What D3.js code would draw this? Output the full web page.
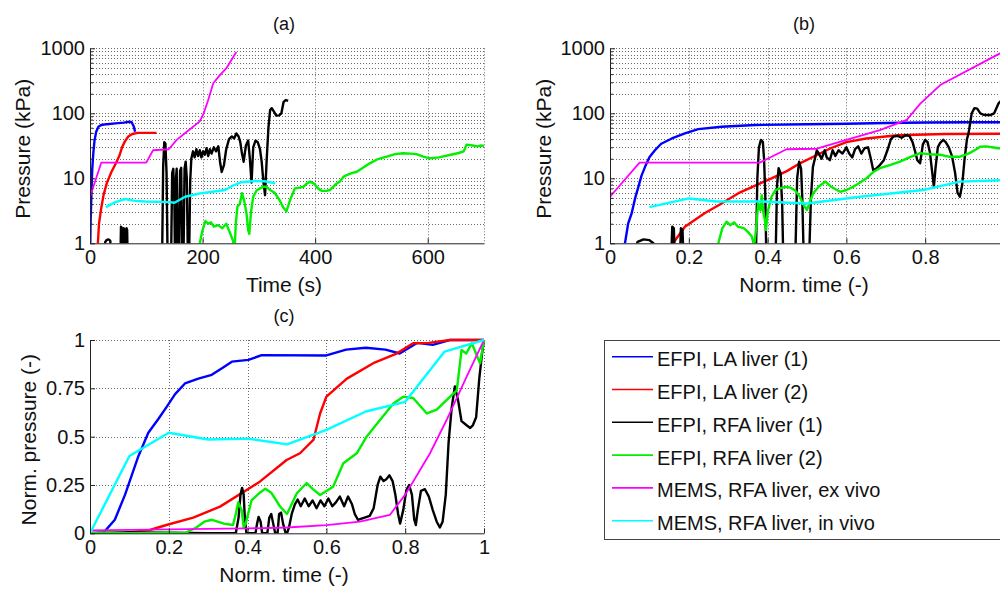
<!DOCTYPE html>
<html>
<head>
<meta charset="utf-8">
<script src="https://cdn.jsdelivr.net/npm/d3@7"></script>
<style>
  body { margin: 0; background: #fff; }
  svg text { font-family: "Liberation Sans", Arial, Helvetica, sans-serif; fill: #111; }
</style>
</head>
<body>
<svg id="chart" width="1000" height="590"></svg>
<script>
(function () {
    'use strict';

    var seriesNames = ["EFPI, LA liver (1)", "EFPI, LA liver (2)", "EFPI, RFA liver (1)",
                       "EFPI, RFA liver (2)", "MEMS, RFA liver, ex vivo", "MEMS, RFA liver, in vivo"];
    var seriesColors = ["#0000ff", "#ff0000", "#000000", "#00f000", "#ff00ff", "#00ffff"];

    // tick labels
    var timeTicks = [0, 200, 400, 600];
    var normTicks = [0, 0.2, 0.4, 0.6, 0.8, 1];
    var pressureTicks = [1, 10, 100, 1000];
    var normPressureTicks = [0, 0.25, 0.5, 0.75, 1];

    // (a) pressure (kPa) vs time (s)
    var aBlue = [[0,0.5],[0.5,1],[1,2],[2,4],[3,8],[4,14],[6,25],[8,38],[11,52],[15,62],[20,66],[30,68],[45,70],[60,72],[70,74],[74,73],[78,62],[80,52]];
    var aRed = [[13,0.8],[14,1],[16,2],[20,3.5],[24,5.5],[30,8.5],[38,12.5],[46,17],[52,22],[57,30],[62,37],[68,44],[75,48],[85,50],[100,50],[118,50]];
    var aBlack = [[25,0.5],[27,1.05],[30,1.13],[33,1.15],[36,1.1],[38,0.5],
        [54,0.5],[55,1.8],[56,1.75],[57,0.5],[59,0.5],[60,1.7],[61,1.65],[62,0.5],[64,0.5],[65,1.7],[66,1.6],[67,0.5],
        [128,0.5],[130,15],[132,36],[134,34],[136,12],[138,0.5],
        [144,0.5],[146,12],[148,14],[150,4],[151,0.5],[152,8],[154,14],[156,0.5],
        [158,0.5],[160,13],[162,14.5],[164,0.5],[166,0.5],[168,14],[170,18],[172,10],[174,0.5],[176,0.5],[178,9],[180,20],
        [183,26],[186,21],[189,28],[192,22],[195,27],[198,21],[201,26],[204,23],[207,29],[210,22],[213,28],[216,24],[220,30],
        [224,26],[228,31],[231,18],[234,12.5],[238,16],[242,28],[247,40],[252,44],[256,41],[260,49],[264,44],[267,36],
        [270,24],[273,18],[277,32],[281,38],[284,20],[287,8.6],[290,30],[294,38],[298,36],[302,28],[305,18],[308,9],
        [311,5.5],[314,20],[317,60],[320,112],[323,120],[327,105],[331,92],[336,93],[340,100],[344,150],[348,160],[352,155]];
    var aGreen = [[193,0.8],[195,1],[200,1.6],[205,2.2],[210,2.0],[215,2.1],[220,1.8],[228,1.9],[235,1.7],[242,2.0],[248,1.5],
        [254,1.1],[257,0.8],[259,2],[262,3.7],[266,4],[270,5.9],[274,4.5],[278,2.9],[281,1.6],[283,1.4],[286,3],[290,5.2],
        [296,6.5],[302,7],[308,7.4],[314,7.4],[320,6.6],[328,6],[337,4.6],[343,3.6],[349,3.1],[355,4.5],[364,7],[372,7.2],
        [379,7.4],[385,8.3],[391,8.9],[398,8.3],[405,7],[412,6.4],[420,6.4],[426,6.6],[436,8],[444,8.9],[450,10.5],[456,11.2],
        [465,12],[474,12.6],[485,14.5],[497,17],[510,19.5],[527,21.5],[542,23.5],[556,24.3],[570,24],[580,23.5],[592,21.5],
        [604,20.3],[620,21],[639,22.8],[655,24.5],[664,26],[669,33],[680,32],[688,31],[695,32],[700,31.4]];
    var aMagenta = [[0,5.2],[20,17.4],[100,17.4],[112,27],[140,28],[154,39],[172,52],[195,75],[202,100],[210,160],[219,290],[230,380],[242,490],[260,880]];
    var aCyan = [[28,3.6],[45,4.3],[62,4.8],[80,4.5],[98,4.4],[142,4.3],[150,4.2],[169,5.2],[198,5.9],[240,6.6],[255,7.8],[269,8.7],[293,9.1],[310,9.0],[329,8.4]];

    // (b) pressure (kPa) vs normalised time
    var bBlue = [[0.035,0.8],[0.038,1],[0.046,2],[0.055,2.9],[0.064,5],[0.072,7.4],[0.08,11],[0.089,15],[0.1,21],[0.114,27],[0.13,34],
        [0.157,41],[0.19,49],[0.224,57],[0.283,62],[0.368,66],[0.5,68],[0.6,69],[0.7,71],[0.8,72],[0.9,73],[1,73]];
    var bRed = [[0.155,0.8],[0.16,1],[0.19,1.8],[0.24,2.9],[0.28,4],[0.326,5.9],[0.37,7.8],[0.41,10],[0.45,13],[0.482,17],[0.52,22],
        [0.56,29],[0.6,36],[0.65,41],[0.73,46],[0.85,48],[1,48.5]];
    var bBlack = [[0.05,0.5],[0.07,1.05],[0.085,1.15],[0.1,1.12],[0.11,1.0],[0.115,0.5],
        [0.155,0.5],[0.158,1.8],[0.162,1.7],[0.165,0.5],[0.177,0.5],[0.18,1.7],[0.184,1.6],[0.187,0.5],
        [0.37,0.5],[0.374,10],[0.378,30],[0.383,39],[0.388,36],[0.391,20],[0.394,6],[0.397,0.5],
        [0.42,0.5],[0.424,8],[0.428,14.3],[0.433,12],[0.437,4],[0.44,0.5],
        [0.47,0.5],[0.475,10],[0.48,18],[0.485,14],[0.488,5],[0.492,0.5],
        [0.505,0.5],[0.51,5],[0.515,15],[0.52,20],[0.525,27],[0.53,24],[0.537,20],[0.545,27],[0.55,21],[0.558,19],[0.565,27],
        [0.572,22],[0.58,27],[0.59,24],[0.6,30],[0.607,24],[0.615,21],[0.622,28],[0.63,31],[0.638,24],[0.646,29],[0.655,30],
        [0.662,20],[0.668,13.4],[0.675,14],[0.685,16],[0.695,19],[0.705,28],[0.713,40],[0.72,44],[0.73,45],[0.74,42],[0.75,46],
        [0.76,45],[0.768,36],[0.775,25],[0.78,19],[0.787,17],[0.794,33],[0.8,39],[0.806,36],[0.812,25],[0.818,12],[0.822,7.4],
        [0.826,14],[0.832,30],[0.838,35],[0.846,39],[0.852,36],[0.86,30],[0.868,22],[0.876,12],[0.882,6],[0.888,5.2],[0.894,8],
        [0.9,20],[0.906,40],[0.91,49],[0.918,100],[0.925,120],[0.932,118],[0.94,100],[0.948,95],[0.956,94],[0.965,94],[0.975,100],
        [0.986,142],[0.995,160],[1,155]];
    var bGreen = [[0.269,0.5],[0.275,1],[0.285,1.7],[0.296,2.15],[0.305,1.9],[0.315,2.1],[0.325,1.8],[0.34,1.7],[0.35,1.5],[0.36,1.27],
        [0.366,0.9],[0.372,2],[0.376,4.1],[0.382,3.2],[0.385,5.5],[0.389,3],[0.393,2.3],[0.396,1.6],[0.4,3],[0.405,4],[0.41,5.2],
        [0.42,6.6],[0.431,7],[0.445,7.4],[0.457,7.2],[0.47,6.5],[0.482,5.2],[0.49,4],[0.5,3.25],[0.508,4.5],[0.516,5.9],[0.53,7.5],
        [0.547,8.9],[0.56,7.5],[0.584,6.2],[0.6,6.6],[0.617,7.4],[0.632,8.4],[0.651,10],[0.668,12.5],[0.685,14.3],[0.71,16],
        [0.736,18],[0.76,21],[0.787,24.3],[0.81,23.5],[0.838,23],[0.86,21.5],[0.888,21.5],[0.91,24],[0.93,28],[0.939,30.6],
        [0.955,31],[0.97,30],[0.985,29],[1,29]];
    var bMagenta = [[0,5.2],[0.075,17.4],[0.38,17.4],[0.4,20],[0.448,28],[0.525,28.5],[0.6,39],[0.685,55],[0.753,79],[0.787,140],[0.838,272],[1,900]];
    var bCyan = [[0.1,3.6],[0.2,4.9],[0.27,4.4],[0.38,4.4],[0.5,4.1],[0.634,5.2],[0.795,6.6],[0.888,8.9],[1,9.4]];

    // (c) normalised pressure vs normalised time
    var cBlue = [[0,0],[0.035,0.005],[0.063,0.07],[0.089,0.2],[0.123,0.4],[0.148,0.52],[0.173,0.59],[0.195,0.655],[0.216,0.72],
        [0.241,0.775],[0.275,0.8],[0.309,0.82],[0.334,0.853],[0.36,0.888],[0.402,0.897],[0.436,0.922],[0.6,0.92],[0.65,0.95],
        [0.7,0.96],[0.75,0.95],[0.786,0.93],[0.83,0.985],[0.87,0.975],[0.913,1],[1,1]];
    var cRed = [[0,0],[0.1,0.005],[0.152,0.017],[0.194,0.043],[0.262,0.081],[0.33,0.138],[0.431,0.267],[0.499,0.379],[0.533,0.414],
        [0.567,0.483],[0.584,0.62],[0.6,0.707],[0.652,0.8],[0.719,0.88],[0.778,0.93],[0.82,0.983],[0.86,0.985],[0.914,1],[1,1]];
    var cBlack = [[0,0],[0.05,0.003],[0.1,0.006],[0.15,0.004],[0.2,0.003],[0.25,0.002],[0.3,0.001],[0.37,0],[0.377,0.08],[0.382,0.2],
        [0.386,0.235],[0.39,0.2],[0.393,0.08],[0.397,0],[0.42,0],[0.424,0.05],[0.428,0.085],[0.433,0.06],[0.437,0],[0.45,0],
        [0.455,0.08],[0.46,0.1],[0.465,0.05],[0.47,0],[0.476,0],[0.48,0.1],[0.485,0.107],[0.49,0.05],[0.496,0.005],[0.5,0],
        [0.505,0.03],[0.512,0.1],[0.52,0.15],[0.527,0.175],[0.535,0.14],[0.545,0.18],[0.555,0.14],[0.565,0.17],[0.575,0.13],
        [0.585,0.17],[0.595,0.14],[0.605,0.18],[0.615,0.14],[0.624,0.16],[0.634,0.19],[0.645,0.14],[0.655,0.19],[0.665,0.15],
        [0.672,0.1],[0.68,0.07],[0.695,0.08],[0.71,0.09],[0.72,0.13],[0.73,0.25],[0.737,0.293],[0.745,0.27],[0.752,0.28],
        [0.76,0.3],[0.768,0.27],[0.775,0.2],[0.782,0.1],[0.787,0.05],[0.795,0.12],[0.803,0.224],[0.81,0.25],[0.817,0.2],
        [0.823,0.07],[0.827,0.043],[0.832,0.12],[0.84,0.22],[0.85,0.228],[0.86,0.19],[0.87,0.12],[0.88,0.06],[0.888,0.03],
        [0.895,0.06],[0.903,0.2],[0.91,0.466],[0.918,0.65],[0.926,0.76],[0.934,0.69],[0.943,0.58],[0.955,0.56],[0.965,0.545],
        [0.972,0.56],[0.98,0.6],[0.988,0.8],[0.995,0.93],[1,1]];
    var cGreen = [[0,0],[0.05,0.005],[0.1,0],[0.2,0.005],[0.24,0],[0.27,0.03],[0.29,0.06],[0.31,0.07],[0.34,0.05],[0.363,0.043],
        [0.37,0.1],[0.376,0.16],[0.385,0.12],[0.39,0.03],[0.395,0.05],[0.41,0.17],[0.431,0.21],[0.445,0.23],[0.46,0.21],
        [0.482,0.14],[0.5,0.1],[0.525,0.207],[0.55,0.26],[0.565,0.23],[0.584,0.198],[0.617,0.241],[0.643,0.362],[0.677,0.414],
        [0.702,0.5],[0.736,0.586],[0.77,0.672],[0.795,0.707],[0.82,0.7],[0.855,0.62],[0.88,0.64],[0.914,0.707],[0.931,0.74],
        [0.943,0.948],[0.955,0.93],[0.969,0.983],[0.99,0.88],[1,1]];
    var cMagenta = [[0,0.015],[0.2,0.02],[0.4,0.025],[0.5,0.03],[0.6,0.042],[0.685,0.06],[0.761,0.095],[0.8,0.2],[0.82,0.267],
        [0.863,0.414],[0.905,0.586],[0.956,0.81],[1,1]];
    var cCyan = [[0,0],[0.1,0.4],[0.2,0.52],[0.3,0.485],[0.4,0.49],[0.5,0.46],[0.6,0.535],[0.7,0.63],[0.8,0.68],[0.9,0.94],[1,1]];

    var svg = d3.select("#chart");

    function drawPanel(p) {
        var g = svg.append("g");
        var x = d3.scaleLinear().domain(p.xDomain).range([p.left, p.right]);
        var y = p.log
            ? d3.scaleLog().domain([1, 1000]).range([p.bottom, p.top])
            : d3.scaleLinear().domain([0, 1]).range([p.bottom, p.top]);

        // dotted grid (minor decades too on the log panels)
        var hGrid = [];
        if (p.log) {
            [1, 10, 100].forEach(function (dec) {
                for (var k = 2; k <= 10; k++) hGrid.push(k * dec);
            });
        } else {
            hGrid = p.yTicks.slice(1);
        }
        var vGrid = p.xTicks.slice(1);
        if (vGrid[vGrid.length - 1] !== p.xDomain[1]) vGrid.push(p.xDomain[1]);

        g.selectAll(".hgrid").data(hGrid).enter().append("line")
            .attr("x1", p.left).attr("x2", p.right)
            .attr("y1", function (d) { return Math.round(y(d)) + 0.5; })
            .attr("y2", function (d) { return Math.round(y(d)) + 0.5; })
            .style("stroke", "#6a6a6a").style("stroke-width", 1).style("stroke-dasharray", "1,2");
        g.selectAll(".vgrid").data(vGrid).enter().append("line")
            .attr("y1", p.top).attr("y2", p.bottom)
            .attr("x1", function (d) { return Math.round(x(d)) + 0.5; })
            .attr("x2", function (d) { return Math.round(x(d)) + 0.5; })
            .style("stroke", "#6a6a6a").style("stroke-width", 1).style("stroke-dasharray", "1,2");

        // curves
        var clipId = "clip-" + p.name;
        svg.append("clipPath").attr("id", clipId).append("rect")
            .attr("x", p.left).attr("y", p.top - 2)
            .attr("width", p.right - p.left + 2).attr("height", p.bottom - p.top + 2);

        var line = d3.line()
            .x(function (d) { return x(d[0]); })
            .y(function (d) { return y(d[1]); });

        g.append("g").attr("clip-path", "url(#" + clipId + ")")
            .selectAll("path").data(p.series).enter().append("path")
            .attr("d", function (d) { return line(d); })
            .style("fill", "none")
            .style("stroke", function (d, i) { return seriesColors[i]; })
            .style("stroke-width", function (d, i) { return i === 4 ? 1.8 : 2.4; })
            .style("stroke-linejoin", "round");

        // axes (ticks inside, like matlab)
        var xAxis = d3.axisBottom(x).tickValues(p.xTicks).tickSizeInner(-5).tickSizeOuter(0).tickPadding(7)
            .tickFormat(p.xFormat);
        var yAxis = d3.axisLeft(y).tickValues(p.yTicks).tickSizeInner(-5).tickSizeOuter(0).tickPadding(5)
            .tickFormat(p.yFormat);

        var gx = g.append("g").attr("transform", "translate(0," + p.bottom + ")").call(xAxis);
        var gy = g.append("g").attr("transform", "translate(" + p.left + ",0)").call(yAxis);
        if (p.log) {
            var minor = hGrid.filter(function (d) { return pressureTicks.indexOf(d) < 0; });
            g.append("g").attr("transform", "translate(" + p.left + ",0)")
                .call(d3.axisLeft(y).tickValues(minor).tickSizeInner(-3).tickSizeOuter(0).tickFormat(""))
                .select(".domain").remove();
        }
        [gx, gy].forEach(function (a) {
            a.selectAll("text").style("font-size", "20px").style("fill", "#111");
            a.selectAll("line").style("stroke", "#222");
            a.select(".domain").style("stroke", "#222");
        });
        g.selectAll(".tick line").style("stroke", "#222");

        // title and axis labels
        var cx = (p.left + p.right) / 2 - 3;
        g.append("text").attr("x", cx).attr("y", p.top - 18.5)
            .style("text-anchor", "middle").style("font-size", "18px").text(p.title);
        g.append("text").attr("x", cx).attr("y", p.bottom + 48.5)
            .style("text-anchor", "middle").style("font-size", "21px").text(p.xLabel);
        g.append("text")
            .attr("transform", "translate(" + p.yLabelX + "," + ((p.top + p.bottom) / 2 + 3) + ") rotate(-90)")
            .style("text-anchor", "middle").style("font-size", "21px").text(p.yLabel);
    }

    var fmtNorm = function (d) { return String(d); };

    drawPanel({
        name: "a", title: "(a)", left: 90, right: 484, top: 48.3, bottom: 243.3, log: true,
        xDomain: [0, 700], xTicks: timeTicks, yTicks: pressureTicks,
        xFormat: d3.format("d"), yFormat: d3.format("d"),
        xLabel: "Time (s)", yLabel: "Pressure (kPa)", yLabelX: 30,
        series: [aBlue, aRed, aBlack, aGreen, aMagenta, aCyan]
    });

    drawPanel({
        name: "b", title: "(b)", left: 610, right: 1004, top: 48.3, bottom: 243.3, log: true,
        xDomain: [0, 1], xTicks: normTicks, yTicks: pressureTicks,
        xFormat: fmtNorm, yFormat: d3.format("d"),
        xLabel: "Norm. time (-)", yLabel: "Pressure (kPa)", yLabelX: 551,
        series: [bBlue, bRed, bBlack, bGreen, bMagenta, bCyan]
    });

    drawPanel({
        name: "c", title: "(c)", left: 90, right: 484, top: 340, bottom: 533.3, log: false,
        xDomain: [0, 1], xTicks: normTicks, yTicks: normPressureTicks,
        xFormat: fmtNorm, yFormat: fmtNorm,
        xLabel: "Norm. time (-)", yLabel: "Norm. pressure (-)", yLabelX: 36,
        series: [cBlue, cRed, cBlack, cGreen, cMagenta, cCyan]
    });

    // legend
    var legend = svg.append("g");
    legend.append("rect")
        .attr("x", 604.5).attr("y", 340.5).attr("width", 420).attr("height", 199)
        .style("fill", "#fff").style("stroke", "#444").style("stroke-width", 1);

    var items = legend.selectAll(".item").data(seriesNames).enter().append("g")
        .attr("transform", function (d, i) { return "translate(0," + (356.7 + i * 32.8) + ")"; });
    items.append("line")
        .attr("x1", 612).attr("x2", 653).attr("y1", 0).attr("y2", 0)
        .style("stroke", function (d, i) { return seriesColors[i]; })
        .style("stroke-width", 1.6);
    items.append("text")
        .attr("x", 657).attr("y", 9.5)
        .style("font-size", "20px")
        .text(function (d) { return d; });
})();
</script>
</body>
</html>
